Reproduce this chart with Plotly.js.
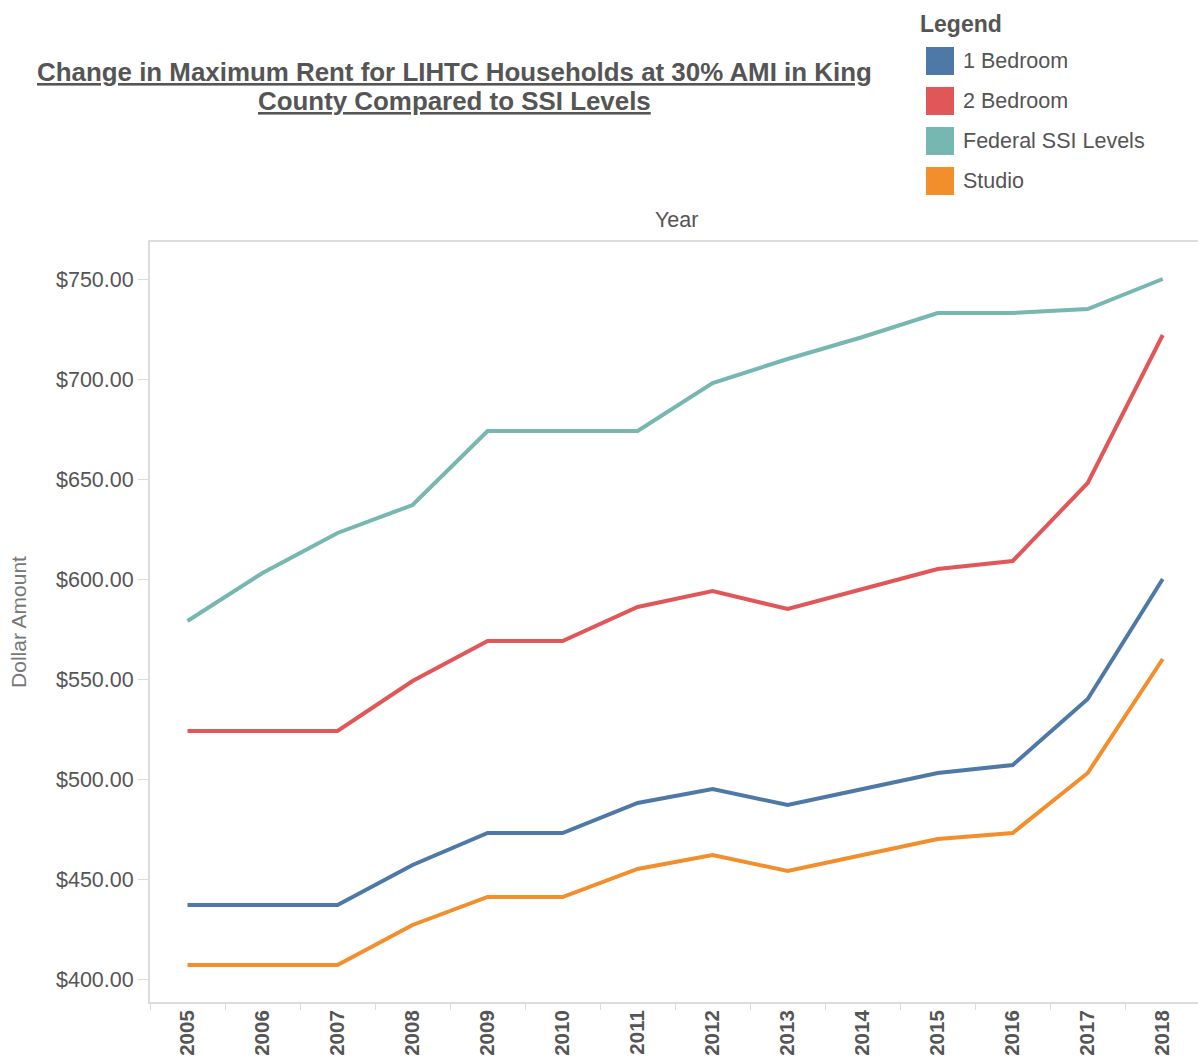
<!DOCTYPE html>
<html>
<head>
<meta charset="utf-8">
<script src="https://cdn.plot.ly/plotly-3.0.1.min.js"></script>
<style>
  html, body { margin: 0; padding: 0; background: #fff; }
  #chart { width: 1198px; height: 1059px; }
</style>
</head>
<body>
<div id="chart"></div>
<script>
// ---- data ----
const years = ["2005","2006","2007","2008","2009","2010","2011","2012","2013","2014","2015","2016","2017","2018"];
const oneBedroom = [437, 437, 437, 457, 473, 473, 488, 495, 487, 495, 503, 507, 540, 600];
const twoBedroom = [524, 524, 524, 549, 569, 569, 586, 594, 585, 595, 605, 609, 648, 722];
const federalSSI = [579, 603, 623, 637, 674, 674, 674, 698, 710, 721, 733, 733, 735, 750];
const studio     = [407, 407, 407, 427, 441, 441, 455, 462, 454, 462, 470, 473, 503, 560];
const seriesNames = ["1 Bedroom", "2 Bedroom", "Federal SSI Levels", "Studio"];
const yTickValues = [400, 450, 500, 550, 600, 650, 700, 750];
const titleLines = ["Change in Maximum Rent for LIHTC Households at 30% AMI in King", "County Compared to SSI Levels"];

// ---- styling ----
const seriesValues = [oneBedroom, twoBedroom, federalSSI, studio];
const colors = ["#4e79a7", "#e15759", "#76b7b2", "#f28e2b"];
const FONT = "Liberation Sans, Arial, sans-serif";
const W = 1198, H = 1059;
const M = { l: 150, r: 0, t: 242, b: 57 };
const PW = W - M.l - M.r, PH = H - M.t - M.b;

const traces = seriesNames.map((name, i) => ({
  type: "scatter",
  mode: "lines",
  name: name,
  x: years,
  y: seriesValues[i],
  line: { color: colors[i], width: 4, shape: "linear" },
  hovertemplate: name + "<br>%{x}: %{y:$.2f}<extra></extra>",
  showlegend: false
}));

// pixel -> paper coordinates (paper is relative to plot area)
const px = (x) => (x - M.l) / PW;
const py = (y) => (H - M.b - y) / PH;
const shapes = [];
const annotations = [];

// title (two centered, underlined lines)
titleLines.forEach((t, i) => {
  annotations.push({
    xref: "paper", yref: "paper", x: px(454), y: py(72 + i * 29),
    xanchor: "center", yanchor: "middle", showarrow: false,
    text: "<b><u>" + t + "</u></b>", font: { family: FONT, size: 25.9, color: "#555555" }
  });
});

// custom legend (square swatches)
annotations.push({
  xref: "paper", yref: "paper", x: px(918), y: py(24),
  xanchor: "left", yanchor: "middle", showarrow: false,
  text: "<b>Legend</b>", font: { family: FONT, size: 23, color: "#555555" }
});
seriesNames.forEach((name, i) => {
  const top = 47 + i * 40;
  shapes.push({
    type: "rect", xref: "paper", yref: "paper",
    x0: px(926), x1: px(954), y0: py(top), y1: py(top + 28),
    fillcolor: colors[i], line: { width: 0 }
  });
  annotations.push({
    xref: "paper", yref: "paper", x: px(961), y: py(top + 14),
    xanchor: "left", yanchor: "middle", showarrow: false,
    text: name, font: { family: FONT, size: 21.5, color: "#555555" }
  });
});
// "Year" header above the plot
annotations.push({
  xref: "paper", yref: "paper", x: px(676), y: py(220),
  xanchor: "center", yanchor: "middle", showarrow: false,
  text: "Year", font: { family: FONT, size: 21.5, color: "#555555" }
});

const layout = {
  width: W, height: H,
  paper_bgcolor: "#ffffff", plot_bgcolor: "#ffffff",
  margin: { l: M.l, r: M.r, t: M.t, b: M.b, pad: 0 },
  font: { family: FONT, color: "#555555" },
  xaxis: {
    type: "category",
    range: [-0.5, 13.47],
    showgrid: false, zeroline: false,
    showline: true, linecolor: "#dcdcdc", linewidth: 2, mirror: true,
    ticks: "outside", tickson: "boundaries", ticklen: 6, tickcolor: "#dcdcdc", tickwidth: 1,
    ticklabelstandoff: -2,
    tickangle: -90,
    tickfont: { family: FONT, size: 20.5, color: "#555555", weight: "bold" },
    fixedrange: true
  },
  yaxis: {
    range: [388.5, 768.5],
    tickvals: yTickValues,
    tickformat: "$.2f",
    showgrid: false, zeroline: false,
    showline: true, linecolor: "#dcdcdc", linewidth: 2,
    ticks: "outside", ticklen: 10, tickcolor: "#dcdcdc", tickwidth: 1,
    tickfont: { family: FONT, size: 21.5, color: "#555555" },
    title: { text: "Dollar Amount", font: { family: FONT, size: 21, color: "#777777" }, standoff: 24 },
    fixedrange: true
  },
  shapes: shapes,
  annotations: annotations,
  hovermode: "closest"
};

Plotly.newPlot("chart", traces, layout, { displayModeBar: false, responsive: false });
</script>
</body>
</html>
